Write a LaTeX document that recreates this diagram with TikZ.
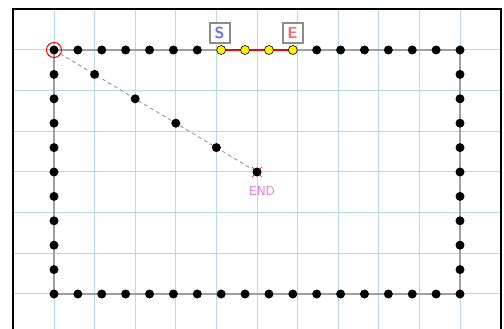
\documentclass[tikz,border=0pt]{standalone}
\usetikzlibrary{calc}
\definecolor{gridblue}{RGB}{180,220,232}
\definecolor{wiregray}{RGB}{160,160,160}
\definecolor{sblue}{RGB}{112,112,240}
\definecolor{ered}{RGB}{240,112,112}
\definecolor{endpink}{RGB}{228,110,228}
\pgfdeclarelayer{grid}
\pgfdeclarelayer{wires}
\pgfsetlayers{grid,wires,main}
\tikzset{
  dot/.style  ={circle, fill=black, inner sep=0pt, minimum size=9pt},
  hit/.style  ={dot, fill=yellow, draw=black, line width=0.6pt},
  wire/.style ={wiregray, line width=1.2pt},
  route/.style={red, line width=1.2pt},
  guess/.style={wiregray, line width=1pt, dash pattern=on 4pt off 3pt},
  ring/.style ={circle, draw=red, line width=1pt, inner sep=0pt, minimum size=15pt},
  tag/.style  ={draw=black!45, line width=2pt, fill=white, minimum size=20pt,
                inner sep=0pt, font=\fontsize{16}{16}\selectfont\sffamily\bfseries},
  lbl/.style  ={font=\fontsize{13}{13}\selectfont\sffamily, text=endpink},
}

\begin{document}
\begin{tikzpicture}[x=1pt,y=-1pt]
  \useasboundingbox (0,0) rectangle (504,329);
  \clip (0,0) rectangle (504,329);

  % background grid
  \begin{pgfonlayer}{grid}
    \foreach \i in {1,...,11}
      \draw[gridblue, line width=1pt] ({13.4+40.6*\i},9) -- ({13.4+40.6*\i},335);
    \foreach \j in {1,...,7}
      \draw[gridblue, line width=1pt] (13,{9.4+40.6*\j}) -- (501,{9.4+40.6*\j});
  \end{pgfonlayer}
  \draw[line width=2pt] (13,335) -- (13,9) -- (501,9) -- (501,335);

  % points on the rectangle
  \foreach \i in {0,...,6,11,12,...,17}
    \node[dot] (t\i) at ({54+\i*406/17},50) {};
  \foreach \i in {7,...,10}
    \node[hit] (t\i) at ({54+\i*406/17},50) {};
  \foreach \i in {0,...,17}
    \node[dot] (b\i) at ({54+\i*406/17},294) {};
  \foreach \j in {1,...,9} {
    \node[dot] (l\j) at (54,{50+\j*24.4}) {};
    \node[dot] (r\j) at (460,{50+\j*24.4}) {};
  }

  % straight guess towards the end point
  \foreach \k in {1,...,4}
    \node[dot] (d\k) at ({54+40.6*\k},{50+24.4*\k}) {};
  \node[dot] (end) at (257,172) {};
  \node[ring] (start) at (t0) {};

  \node[tag, text=sblue] (s) at (219.5,33) {S};
  \node[tag, text=ered]  (e) at (292.5,33) {E};
  \node[lbl] (endlbl) at (262,191) {END};

  \begin{pgfonlayer}{wires}
    \draw[wire] (t0.center) -- (t7.center);
    \draw[route] (t7.center) -- (t10.center);
    \draw[wire] (t10.center) -- (t17.center) -- (b17.center) -- (b0.center) -- (t0.center);
    \draw[guess] (t0.center) -- (end.center);
    \draw[red, line width=0.6pt] ($(end)+(-5,-5)$) -- ($(end)+(5,5)$)
                                 ($(end)+(-5,5)$) -- ($(end)+(5,-5)$);
  \end{pgfonlayer}
\end{tikzpicture}
\end{document}
